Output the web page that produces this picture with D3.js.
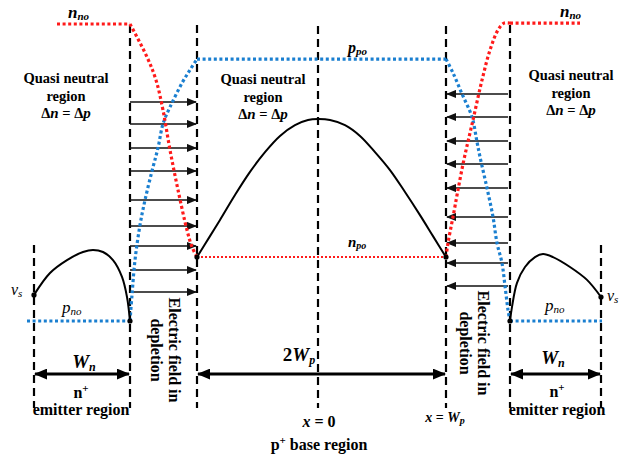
<!DOCTYPE html>
<html>
<head>
<meta charset="utf-8">
<script src="https://cdn.jsdelivr.net/npm/d3@7"></script>
<style>
body { margin: 0; background: #fff; }
svg text { font-family: "Liberation Serif", "DejaVu Serif", serif; }
</style>
</head>
<body>
<svg width="623" height="461"></svg>
<script>
// diagram units: x in 100 px steps around x = 0, y in concentration-like units (0 = p_no level)
const boundaryX = [-2.84, -1.88, -1.21, 0, 1.28, 1.92, 2.83];
const boundaryTop = [25.3, 98.7, 98.7, 98.3, 98.3, 98.7, 25.3];
const boundaryBottom = -29;

// red (electrons)
const nnoLeft = [[-2.61, 99], [-1.88, 99]];
const redLeft = [[-1.88, 99], [-1.71, 88], [-1.62, 80.3], [-1.55, 70.3], [-1.48, 57], [-1.40, 43.7], [-1.31, 30.3], [-1.26, 24.7], [-1.21, 21.3]];
const npoLine = [[-1.21, 21.3], [1.28, 21.3]];
const redRight = [[1.28, 21.3], [1.30, 26], [1.35, 34.7], [1.45, 52.3], [1.55, 67], [1.64, 80.3], [1.72, 90.3], [1.80, 97], [1.86, 99.3], [1.92, 99.3]];
const nnoRight = [[1.92, 99.3], [2.62, 99.3]];

// blue (holes)
const pnoLeft = [[-2.91, 0], [-1.88, 0]];
const blueLeft = [[-1.88, 0], [-1.86, 8.7], [-1.83, 20.3], [-1.78, 32], [-1.73, 40.3], [-1.66, 50], [-1.60, 57.7], [-1.55, 65.7], [-1.48, 71.3], [-1.36, 79.3], [-1.28, 83.7], [-1.21, 87.3]];
const ppoLine = [[-1.21, 87.3], [1.28, 87.3]];
const blueRight = [[1.28, 87.3], [1.35, 82.7], [1.44, 75.7], [1.54, 68], [1.59, 59.7], [1.62, 54.7], [1.69, 44.3], [1.75, 34.7], [1.79, 26], [1.84, 19.3], [1.87, 11.7], [1.90, 3.7], [1.92, 0]];
const pnoRight = [[1.92, 0], [2.84, 0]];

// black excess carrier profiles
const baseProfile = [[-1.21, 21.3], [-1.08, 28.3], [-0.98, 33.7], [-0.83, 42], [-0.68, 49.7], [-0.53, 56.3], [-0.38, 61.7], [-0.23, 65.3], [-0.10, 67], [0, 67.3], [0.12, 67], [0.27, 65.3], [0.42, 61.7], [0.57, 56.3], [0.72, 50.3], [0.87, 43], [1.02, 35.3], [1.15, 28.3], [1.28, 21.3]];
const emitterLeft = [[-2.84, 8.7], [-2.68, 16], [-2.51, 20.3], [-2.35, 23], [-2.25, 23.7], [-2.15, 23], [-2.05, 20.3], [-1.96, 14.7], [-1.91, 8], [-1.88, 0]];
const emitterRight = [[1.92, 0], [1.94, 4.7], [1.99, 12.7], [2.07, 18], [2.17, 21.3], [2.25, 22.3], [2.35, 21.3], [2.52, 18], [2.69, 13.7], [2.83, 8]];
const endDots = [[-2.84, 8.7], [-1.88, 0], [-1.21, 21.3], [1.28, 21.3], [1.92, 0], [2.83, 8]];

// electric field arrows in the two depletion regions
const fieldLeftY = [73, 65.7, 57.7, 50, 40.3, 31.7, 25, 17, 9.7];
const fieldRightY = [75.7, 68, 60, 52.3, 44.3, 34.7, 26, 19.3, 11.7];

// width dimension arrows
const spanFrom = [-2.84, -1.21, 1.92];
const spanTo = [-1.88, 1.28, 2.83];
const spanY = -17.7;

const svg = d3.select("svg");
const x = d3.scaleLinear().domain([-3.18, 3.05]).range([0, 623]);
const y = d3.scaleLinear().domain([0, 100]).range([321, 21]);
const serif = "'Liberation Serif', 'DejaVu Serif', serif";

const defs = svg.append("defs");
defs.append("marker")
    .attr("id", "head")
    .attr("markerUnits", "userSpaceOnUse")
    .attr("markerWidth", 10).attr("markerHeight", 8)
    .attr("refX", 9).attr("refY", 4)
    .attr("orient", "auto")
  .append("path").attr("d", "M0,0 L10,4 L0,8 Z").attr("fill", "#111");
defs.append("marker")
    .attr("id", "bighead")
    .attr("markerUnits", "userSpaceOnUse")
    .attr("markerWidth", 13).attr("markerHeight", 11)
    .attr("refX", 12).attr("refY", 5.5)
    .attr("orient", "auto-start-reverse")
  .append("path").attr("d", "M0,0 L13,5.5 L0,11 Z").attr("fill", "#000");

const straight = d3.line().x(d => x(d[0])).y(d => y(d[1]));
const smooth = d3.line().x(d => x(d[0])).y(d => y(d[1])).curve(d3.curveCatmullRom.alpha(0.5));

// dashed boundaries
svg.append("g").selectAll("line")
    .data(boundaryX)
    .enter().append("line")
    .attr("x1", d => x(d)).attr("x2", d => x(d))
    .attr("y1", (d, i) => y(boundaryTop[i]))
    .attr("y2", y(boundaryBottom))
    .attr("stroke", "#000")
    .attr("stroke-width", 2.2)
    .attr("stroke-dasharray", "8,5");

// field arrows
const arrows = svg.append("g");
arrows.selectAll("line.fl")
    .data(fieldLeftY)
    .enter().append("line")
    .attr("class", "fl")
    .attr("x1", x(-1.88)).attr("x2", x(-1.22))
    .attr("y1", d => y(d)).attr("y2", d => y(d))
    .attr("stroke", "#111").attr("stroke-width", 1.5)
    .attr("marker-end", "url(#head)");
arrows.selectAll("line.fr")
    .data(fieldRightY)
    .enter().append("line")
    .attr("class", "fr")
    .attr("x1", x(1.90)).attr("x2", x(1.29))
    .attr("y1", d => y(d)).attr("y2", d => y(d))
    .attr("stroke", "#111").attr("stroke-width", 1.5)
    .attr("marker-end", "url(#head)");

// dotted carrier lines
function dotted(data, color, gen, w) {
    svg.append("path")
        .attr("d", gen(data))
        .attr("fill", "none")
        .attr("stroke", color)
        .attr("stroke-width", w || 3.2)
        .attr("stroke-dasharray", w ? "2,2" : "3,2.6");
}
const red = "#ff1a1a", blue = "#1a7fd0";
dotted(pnoLeft, blue, straight);
dotted(blueLeft, blue, smooth);
dotted(ppoLine, blue, straight);
dotted(blueRight, blue, smooth);
dotted(pnoRight, blue, straight);
dotted(nnoLeft, red, straight);
dotted(redLeft, red, smooth);
dotted(npoLine, red, straight, 2);
dotted(redRight, red, smooth);
dotted(nnoRight, red, straight);

// black profiles
[baseProfile, emitterLeft, emitterRight].forEach(p => {
    svg.append("path")
        .attr("d", smooth(p))
        .attr("fill", "none")
        .attr("stroke", "#000")
        .attr("stroke-width", 2);
});
svg.append("g").selectAll("circle")
    .data(endDots)
    .enter().append("circle")
    .attr("cx", d => x(d[0])).attr("cy", d => y(d[1]))
    .attr("r", 2.6).attr("fill", "#000");

// width arrows
svg.append("g").selectAll("line")
    .data(spanFrom)
    .enter().append("line")
    .attr("x1", d => x(d) + 1).attr("x2", (d, i) => x(spanTo[i]) - 1)
    .attr("y1", y(spanY)).attr("y2", y(spanY))
    .attr("stroke", "#000").attr("stroke-width", 3)
    .attr("marker-start", "url(#bighead)")
    .attr("marker-end", "url(#bighead)");

// text helper
function rich(px, py, parts, anchor) {
    const t = svg.append("text")
        .attr("x", px).attr("y", py)
        .attr("font-family", serif)
        .attr("text-anchor", anchor || "start")
        .attr("fill", "#000");
    parts.forEach(p => {
        t.append("tspan")
            .attr("font-size", p.s || 16)
            .attr("font-weight", p.b ? "bold" : "normal")
            .attr("font-style", p.i ? "italic" : "normal")
            .attr("dy", p.dy || 0)
            .text(p.t);
    });
    return t;
}

// level labels
rich(68, 18, [{t: "n", s: 17, b: 1, i: 1}, {t: "no", s: 11, b: 1, i: 1, dy: 2}]);
rich(560, 17, [{t: "n", s: 17, b: 1, i: 1}, {t: "no", s: 11, b: 1, i: 1, dy: 2}]);
rich(348, 53, [{t: "p", s: 16, i: 1, b: 1}, {t: "po", s: 11, i: 1, b: 1, dy: 2}]);
rich(348, 247, [{t: "n", s: 15, i: 1, b: 1}, {t: "po", s: 10, i: 1, b: 1, dy: 2}]);
rich(62, 313, [{t: "p", s: 17, i: 1}, {t: "no", s: 11, i: 1, dy: 2}]);
rich(545, 311, [{t: "p", s: 17, i: 1}, {t: "no", s: 11, i: 1, dy: 2}]);
rich(11, 295, [{t: "v", s: 16, i: 1}, {t: "s", s: 11, i: 1, dy: 2}]);
rich(607, 301, [{t: "v", s: 16, i: 1}, {t: "s", s: 11, i: 1, dy: 2}]);

// quasi neutral labels
[[66, 83], [263, 84], [571, 80]].forEach(([cx, cy]) => {
    rich(cx, cy, [{t: "Quasi neutral", s: 14.5, b: 1}], "middle");
    rich(cx, cy + 18, [{t: "region", s: 14.5, b: 1}], "middle");
    rich(cx, cy + 35, [{t: "Δ", s: 14.5, b: 1}, {t: "n", s: 15, b: 1, i: 1}, {t: " = Δ", s: 14.5, b: 1}, {t: "p", s: 15, b: 1, i: 1}], "middle");
});

// electric field labels
[[169, 350], [478, 343]].forEach(([bx, by]) => {
    const t = svg.append("text")
        .attr("transform", `translate(${bx}, ${by}) rotate(90)`)
        .attr("text-anchor", "middle")
        .attr("font-family", serif)
        .attr("font-size", 16)
        .attr("font-weight", "bold");
    t.append("tspan").attr("x", 0).attr("y", 0).text("Electric field in");
    t.append("tspan").attr("x", 0).attr("dy", 18).text("depletion");
});

// width labels
rich(84, 368, [{t: "W", s: 19, b: 1, i: 1}, {t: "n", s: 12, b: 1, i: 1, dy: 3}], "middle");
rich(553, 364, [{t: "W", s: 19, b: 1, i: 1}, {t: "n", s: 12, b: 1, i: 1, dy: 3}], "middle");
rich(299, 361, [{t: "2", s: 19, b: 1}, {t: "W", s: 19, b: 1, i: 1}, {t: "p", s: 12, b: 1, i: 1, dy: 3}], "middle");

// region labels
[[81, 398, 415], [557, 397, 415]].forEach(([cx, y1, y2]) => {
    rich(cx, y1, [{t: "n", s: 16, b: 1}, {t: "+", s: 11, b: 1, dy: -6}], "middle");
    rich(cx, y2, [{t: "emitter region", s: 16, b: 1}], "middle");
});
rich(319, 427, [{t: "x", s: 16, b: 1, i: 1}, {t: " = 0", s: 16, b: 1}], "middle");
rich(445, 422, [{t: "x", s: 14, b: 1, i: 1}, {t: " = ", s: 14, b: 1}, {t: "W", s: 14, b: 1, i: 1}, {t: "p", s: 10, b: 1, i: 1, dy: 2}], "middle");
rich(319, 450, [{t: "p", s: 16, b: 1}, {t: "+", s: 11, b: 1, dy: -6}, {t: " base region", s: 16, b: 1, dy: 6}], "middle");
</script>
</body>
</html>
